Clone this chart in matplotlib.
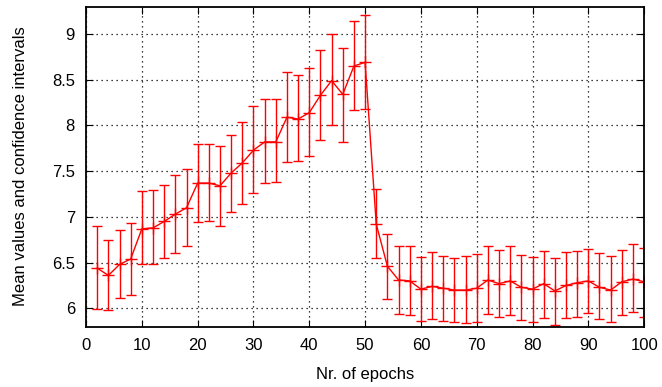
import numpy as np
import matplotlib.pyplot as plt

plt.rcParams['font.family'] = ['Liberation Sans', 'DejaVu Sans']

# epochs sampled every 2
epochs = list(range(2, 101, 2))
means = [6.44, 6.36, 6.48, 6.54, 6.87, 6.88, 6.95, 7.03, 7.10, 7.37,
         7.37, 7.34, 7.48, 7.59, 7.73, 7.82, 7.82, 8.09, 8.07, 8.14,
         8.33, 8.49, 8.34, 8.65, 8.69, 6.92, 6.46, 6.31, 6.30, 6.21,
         6.24, 6.22, 6.20, 6.20, 6.22, 6.31, 6.27, 6.30, 6.23, 6.21,
         6.27, 6.19, 6.25, 6.28, 6.30, 6.23, 6.20, 6.29, 6.32, 6.29]
upper = [6.90, 6.75, 6.86, 6.93, 7.28, 7.29, 7.35, 7.46, 7.52, 7.80,
         7.80, 7.78, 7.90, 8.04, 8.21, 8.29, 8.29, 8.58, 8.55, 8.63,
         8.82, 9.00, 8.85, 9.14, 9.21, 7.30, 6.81, 6.68, 6.68, 6.56,
         6.62, 6.57, 6.55, 6.57, 6.59, 6.68, 6.64, 6.68, 6.58, 6.56,
         6.63, 6.55, 6.62, 6.63, 6.65, 6.60, 6.57, 6.64, 6.70, 6.66]
lower = [5.99, 5.98, 6.11, 6.15, 6.48, 6.49, 6.55, 6.61, 6.68, 6.94,
         6.95, 6.90, 7.05, 7.14, 7.26, 7.37, 7.38, 7.60, 7.61, 7.67,
         7.84, 8.01, 7.82, 8.17, 8.18, 6.55, 6.10, 5.94, 5.93, 5.86,
         5.88, 5.86, 5.85, 5.84, 5.85, 5.94, 5.91, 5.93, 5.87, 5.85,
         5.89, 5.82, 5.89, 5.91, 5.95, 5.88, 5.85, 5.93, 5.96, 5.91]

m = np.array(means)
yerr = [m - np.array(lower), np.array(upper) - m]

fig = plt.figure(figsize=(6.62, 3.87), dpi=100)
ax = fig.add_axes([0.130, 0.156, 0.843, 0.827])

ax.errorbar(epochs, means, yerr=yerr, color='red', lw=1, elinewidth=1,
            capsize=3.5, capthick=1, marker='+', markersize=8, mew=1)

ax.set_xlim(0, 100)
ax.set_ylim(5.8, 9.3)
ax.set_xticks(range(0, 101, 10))
ax.set_yticks([6, 6.5, 7, 7.5, 8, 8.5, 9])
ax.set_yticklabels(['6', '6.5', '7', '7.5', '8', '8.5', '9'])
ax.grid(True, color='black', linestyle=(0, (1, 3)), lw=0.9)
ax.tick_params(direction='in', top=True, right=True, length=5, labelsize=12, pad=8)
for s in ax.spines.values():
    s.set_linewidth(1.3)

ax.set_xlabel('Nr. of epochs', fontsize=12, labelpad=10)
ax.set_ylabel('Mean values and confidence intervals', fontsize=12, labelpad=17)

fig.savefig('out.png', dpi=100)
